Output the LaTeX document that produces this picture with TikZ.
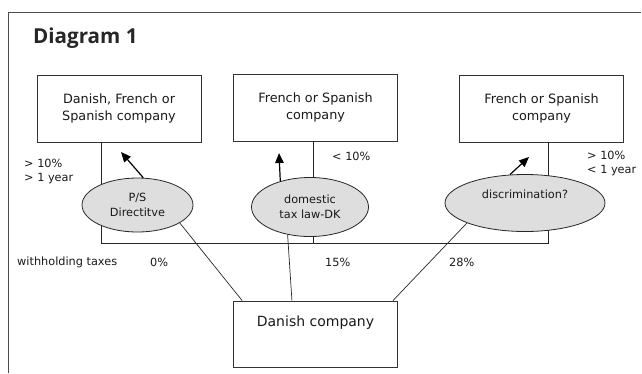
\documentclass[tikz,border=0pt]{standalone}
\usepackage{fontspec}
\setmainfont{DejaVu Sans}
\newfontfamily\titlefont{Open Sans}
\usetikzlibrary{arrows.meta,positioning,calc,shapes.geometric}

\begin{document}
\begin{tikzpicture}[x=1pt, y=-1pt, >={Triangle[length=10pt,width=8.5pt]},
  cobox/.style={draw=black!80, line width=0.8pt, minimum width=164pt, minimum height=67pt,
    inner sep=0pt, align=center, text=black!90, font=\fontsize{12.8}{17}\selectfont},
  treaty/.style={ellipse, draw=black!85, line width=0.8pt, fill=black!13, inner sep=0pt,
    align=center, text=black!90, font=\fontsize{11.3}{15}\selectfont},
  note/.style={anchor=west, inner sep=0pt, align=left, text=black!90, font=\fontsize{11.3}{14}\selectfont},
  link/.style={black!85, line width=0.7pt},
  push/.style={->, black, line width=1.2pt}]
  \useasboundingbox (0,0) rectangle (642,373);

  % Frame and title
  \draw[black!70, line width=0.8pt] (8.5,373) -- (8.5,12.5) -- (641,12.5);
  \node[anchor=base west, inner sep=0pt, font=\titlefont\bfseries\fontsize{20.6}{24}\selectfont, text=black!85] (title) at (33,43) {Diagram 1};

  % Companies
  \node[cobox] (dfs) at (119,108.5) {Danish, French or\\Spanish company};
  \node[cobox] (fsmid) at (315.5,107.5) {French or Spanish\\company};
  \node[cobox] (fsright) at (541.5,108.5) {French or Spanish\\company};
  \node[cobox, minimum height=66pt, text depth=26pt, font=\fontsize{14}{17}\selectfont] (dk) at (315.5,334) {Danish company};

  % Ownership lines
  \coordinate (j1) at (101.7,243);
  \coordinate (j2) at (313.5,243);
  \coordinate (j3) at (548,243);
  \draw[link] (dfs.south -| j1) -- (j1) -- (j3) -- (fsright.south -| j3);
  \draw[link] (fsmid.south -| j2) -- (j2);

  % Legal bases
  \node[treaty, minimum width=111pt, minimum height=54pt] (ps) at (137.5,205) {P/S\\Directitve};
  \node[treaty, minimum width=117pt, minimum height=59pt] (dom) at (310,207) {domestic\\tax law-DK};
  \node[treaty, minimum width=160pt, minimum height=57pt] (disc) at (525,203) {discrimination?\\[3pt]\mbox{}};

  \draw[link] ($(dk.north west)!0.055!(dk.north east)$) -- (ps.-23);
  \draw[link] ($(dk.north west)!0.357!(dk.north east)$) -- (dom.-129);
  \draw[link] ($(dk.north west)!0.97!(dk.north east)$) -- (disc.-161);

  % Payments
  \coordinate (t1) at (121,152);
  \coordinate (t2) at (279,153);
  \coordinate (t3) at (529,157);
  \draw[push] (ps.78) -- (t1);
  \draw[push] (dom.139) -- (t2);
  \draw[push] (disc.118) -- (t3);

  % Conditions
  \node[note] (c1) at (24,171) {> 10\%\\> 1 year};
  \node[note] (c2) at (332,156) {< 10\%};
  \node[note] (c3) at (587,163) {> 10\%\\< 1 year};

  % Withholding taxes
  \foreach \x/\lbl/\nm in {17/{withholding taxes}/wt, 150/{0\%}/w0, 325/{15\%}/w15, 449/{28\%}/w28} {
    \node[note] (\nm) at (\x,262) {\lbl};
  }
\end{tikzpicture}
\end{document}
